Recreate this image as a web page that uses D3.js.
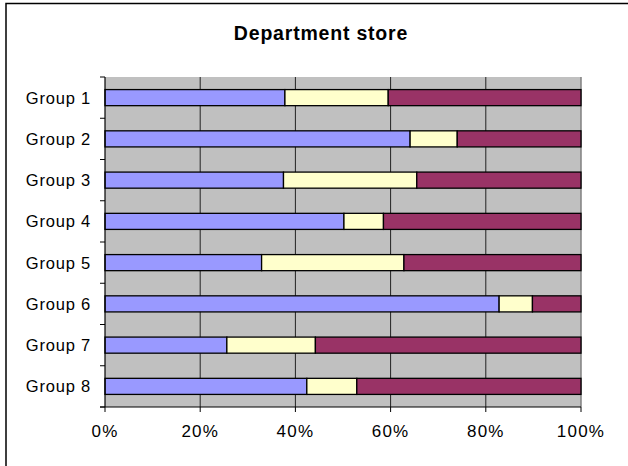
<!DOCTYPE html>
<html><head><meta charset="utf-8">
<script src="https://cdn.jsdelivr.net/npm/d3@7"></script>
<style>body{margin:0;background:#fff}svg{display:block}</style>
</head><body>
<svg id="c" width="628" height="466"></svg>
<script>
const categories = ["Group 1","Group 2","Group 3","Group 4","Group 5","Group 6","Group 7","Group 8"];
const seriesNames = ["A","B","C"];
const seriesA = [37.8, 64.1, 37.5, 50.2, 32.9, 82.8, 25.6, 42.4];
const seriesB = [21.7, 9.9, 28.0, 8.3, 29.9, 7.0, 18.6, 10.5];
const seriesC = [40.5, 26.0, 34.5, 41.5, 37.2, 10.2, 55.8, 47.1];
const xTicks = [0, 0.2, 0.4, 0.6, 0.8, 1.0];
const colors = ["#9999FF", "#FFFFCC", "#993366"];

const svg = d3.select("#c");
const L = 105, R = 581, T = 77, B = 407;
const font = "Liberation Sans, Arial, sans-serif";

// outer frame
svg.append("rect").attr("x",6).attr("y",3.5).attr("width",700).attr("height",600)
  .attr("fill","#fff").attr("stroke","#000").attr("stroke-width",1.5);

svg.append("text").attr("x",321).attr("y",40).attr("text-anchor","middle")
  .attr("font-family",font).attr("font-weight","bold")
  .attr("font-size",19.5).attr("letter-spacing",0.8).text("Department store");

const x = d3.scaleLinear().domain([0,1]).range([L,R]);
const y = d3.scaleBand().domain(categories).range([T,B]).paddingInner(0.61).paddingOuter(0.305);
const yb = d3.scaleBand().domain(categories).range([T,B]);

svg.append("rect").attr("x",L).attr("y",T).attr("width",R-L).attr("height",B-T).attr("fill","#C0C0C0");

// gridlines
svg.append("g").selectAll("line").data(xTicks.slice(1,-1)).join("line")
  .attr("x1",d=>x(d)).attr("x2",d=>x(d)).attr("y1",T).attr("y2",B)
  .attr("stroke","#222").attr("stroke-width",1);
svg.append("line").attr("x1",R).attr("x2",R).attr("y1",T).attr("y2",B).attr("stroke","#808080").attr("stroke-width",1.5);

const data = categories.map((c,i)=>({cat:c, vals:[seriesA[i],seriesB[i],seriesC[i]]}));
const stack = d3.stack().keys([0,1,2]).value((d,k)=>d.vals[k]/100)(data);
svg.append("g").selectAll("g").data(stack).join("g").attr("fill",(d,i)=>colors[i])
  .selectAll("rect").data(d=>d).join("rect")
  .attr("x",d=>x(d[0])).attr("width",d=>x(d[1])-x(d[0]))
  .attr("y",d=>y(d.data.cat)).attr("height",y.bandwidth())
  .attr("stroke","#000").attr("stroke-width",1.3);

// left axis
svg.append("line").attr("x1",L).attr("x2",L).attr("y1",T).attr("y2",B).attr("stroke","#000").attr("stroke-width",1.2);
const bounds = categories.map(c=>yb(c)).concat([B]);
svg.append("g").selectAll("line").data(bounds).join("line")
  .attr("x1",L-5).attr("x2",L).attr("y1",d=>d).attr("y2",d=>d).attr("stroke","#000");
svg.append("g").selectAll("text").data(categories).join("text")
  .attr("x",91).attr("y",d=>yb(d)+yb.bandwidth()/2).attr("dy","0.36em")
  .attr("text-anchor","end").attr("font-family",font).attr("font-size",16.5)
  .attr("letter-spacing",0.8).text(d=>d);

// bottom axis
svg.append("line").attr("x1",L-5).attr("x2",R).attr("y1",B).attr("y2",B).attr("stroke","#000").attr("stroke-width",1.2);
svg.append("g").selectAll("line").data(xTicks).join("line")
  .attr("x1",d=>x(d)).attr("x2",d=>x(d)).attr("y1",B).attr("y2",B+5).attr("stroke","#000");
svg.append("g").selectAll("text").data(xTicks).join("text")
  .attr("x",d=>x(d)).attr("y",437).attr("text-anchor","middle")
  .attr("font-family",font).attr("font-size",17).attr("letter-spacing",1.2)
  .text(d=>d3.format(".0%")(d));
</script>
</body></html>
